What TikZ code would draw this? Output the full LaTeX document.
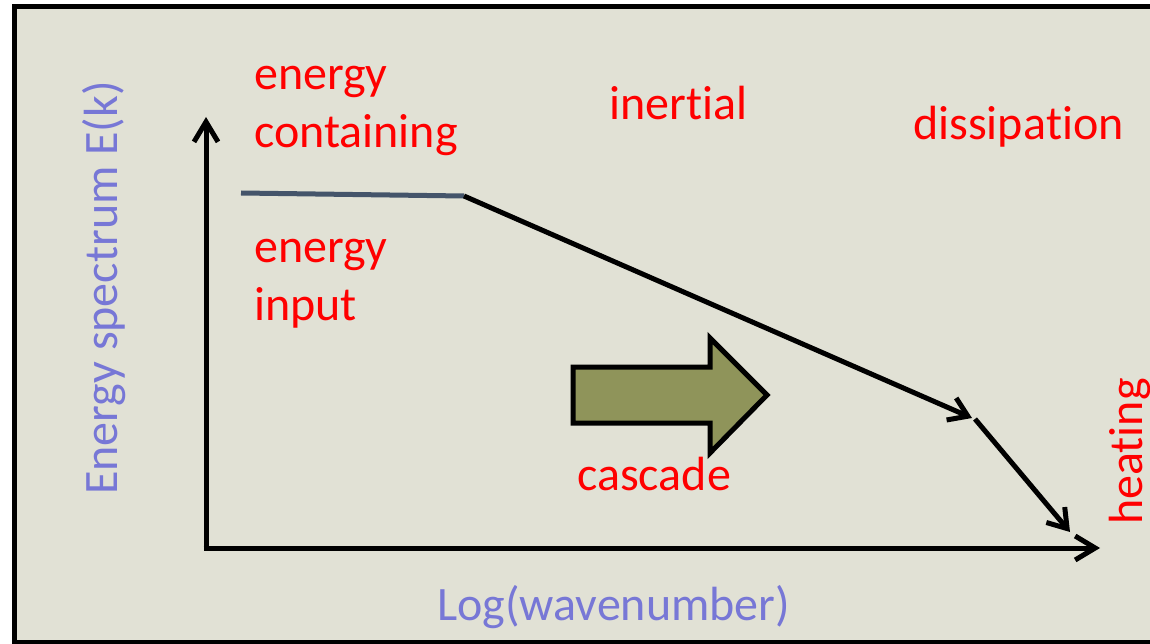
\documentclass[tikz,border=0pt]{standalone}
\usepackage{fontspec}
\setmainfont[Ligatures={NoCommon,NoContextual,NoRequired},RawFeature={-liga;-clig;-dlig;-calt}]{Carlito}
\usetikzlibrary{arrows.meta}
\definecolor{bg}{HTML}{E1E1D5}
\definecolor{lbl}{HTML}{FF0000}
\definecolor{axlbl}{HTML}{7777D6}
\definecolor{slate}{HTML}{44546A}
\definecolor{olive}{HTML}{8F945A}
\tikzset{
  redtxt/.style={text=lbl, font=\fontsize{48}{58}\selectfont, inner sep=0pt, align=left},
  axtxt/.style={text=axlbl, font=\fontsize{48}{58}\selectfont, inner sep=0pt},
  axisline/.style={line width=5pt, -{Straight Barb[length=20pt,width=24pt]}},
  spec/.style={line width=5pt, -{Straight Barb[length=18pt,width=24pt]}},
}
\begin{document}
\begin{tikzpicture}[x=1pt,y=-1pt]
\useasboundingbox (0,0) rectangle (1150,644);
\fill[white] (0,0) rectangle (1150,644);
\fill[bg] (14,7) rectangle (1160,642);
\draw[line width=5pt] (1170,7) -- (14,7) -- (14,642) -- (1170,642);

% axes
\coordinate (O) at (206,548);
\coordinate (Ytop) at (206,117);
\coordinate (Xend) at (1100,548);
\draw[axisline, line cap=butt] (O) -- (Ytop);
\draw[axisline] ([xshift=-2.5pt]O) -- (Xend);

% spectrum
\coordinate (s0) at (241,193);
\coordinate (s1) at (464,196);
\coordinate (s2) at (972,418);
\coordinate (s3) at (975,419);
\coordinate (s4) at (1070,532);
\draw[slate, line width=5pt] (s0) -- (s1);
\draw[spec] (s1) -- (s2);
\draw[spec] (s3) -- (s4);

% cascade block arrow
\draw[line width=5pt, fill=olive, line join=miter]
  (573,367) -- (710,367) -- (710,338) -- (767,395) -- (710,453) -- (710,423) -- (573,423) -- cycle;

% labels
\node[redtxt, anchor=base west] (ec) at (254,148) {energy\\containing};
\node[redtxt, anchor=base west] (ei) at (254,320) {energy\\input};
\node[redtxt, anchor=base west] (in) at (609,120) {iner\kern0pt tial};
\node[redtxt, anchor=base west] (di) at (913,140) {dissipa\kern0pt tion};
\node[redtxt, anchor=base west] (ca) at (577,490) {cascade};
\node[redtxt, anchor=base west, rotate=90] (he) at (1142,525) {heating};
\node[axtxt, anchor=base west, rotate=90] (yl) at (117,495) {Energy spectrum E(k)};
\node[axtxt, anchor=base west] (xl) at (437,620) {Log(wavenumber)};
\end{tikzpicture}
\end{document}
